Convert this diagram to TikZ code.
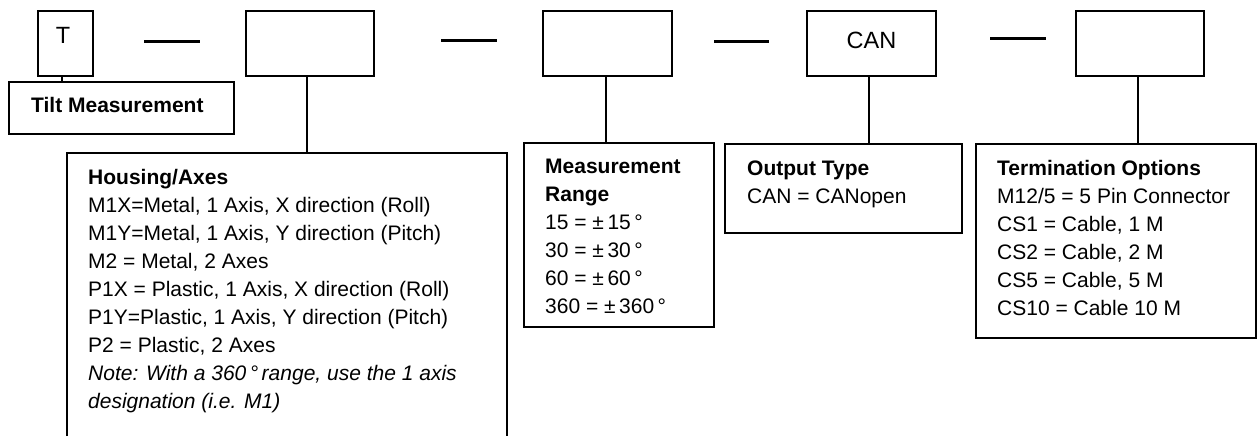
\documentclass[tikz,border=0pt]{standalone}
\usepackage{fontspec}
\setmainfont{Liberation Sans}
\begin{document}
\begin{tikzpicture}[x=1pt,y=-1pt,
  box/.style={draw, line width=1.4pt, inner sep=0pt, outer sep=0pt, anchor=north west},
  conn/.style={line width=1.3pt},
  dashline/.style={line width=3pt},
  code/.style={font=\fontsize{23.5}{28}\selectfont, inner sep=0pt},
  txt/.style={font=\fontsize{21}{28}\selectfont, align=left, anchor=north west, inner sep=0pt}]
\useasboundingbox (0,0) rectangle (1257,436);
% code boxes
\node[box, minimum width=55pt, minimum height=65pt] (t) at (38,11) {};
\node[box, minimum width=128pt, minimum height=65pt] (b2) at (246,11) {};
\node[box, minimum width=129pt, minimum height=65pt] (b3) at (543,11) {};
\node[box, minimum width=129pt, minimum height=65pt] (can) at (807,11) {};
\node[box, minimum width=128pt, minimum height=65pt] (b5) at (1076,11) {};
\node[code] (tl) at (63,35.5) {T};
\node[code] (canl) at (871.5,40) {CAN};
% dashes
\draw[dashline] (144,42) -- (200,42);
\draw[dashline] (441,41) -- (497,41);
\draw[dashline] (714,42) -- (769,42);
\draw[dashline] (990,39) -- (1046,39);
% description boxes
\node[box, minimum width=225pt, minimum height=52pt] (tilt) at (9,82) {};
\node[inner sep=0pt, outer sep=0pt, minimum width=440pt, minimum height=283pt, anchor=north west] (hous) at (67,153) {};
\draw[line width=1.4pt] (hous.south west) -- (hous.north west) -- (hous.north east) -- (hous.south east);
\node[box, minimum width=190pt, minimum height=184pt] (meas) at (524,143) {};
\node[box, minimum width=237pt, minimum height=89pt] (out) at (725,144) {};
\node[box, minimum width=280pt, minimum height=194pt] (term) at (976,144) {};
% connectors
\draw[conn] ([xshift=-3.5pt]t.south) -- ([xshift=-3.5pt]t.south |- tilt.north);
\draw[conn] ([xshift=-3pt]b2.south) -- ([xshift=-3pt]b2.south |- hous.north);
\draw[conn] ([xshift=-1.5pt]b3.south) -- ([xshift=-1.5pt]b3.south |- meas.north);
\draw[conn] ([xshift=-2.5pt]can.south) -- ([xshift=-2.5pt]can.south |- out.north);
\draw[conn] ([xshift=-2pt]b5.south) -- ([xshift=-2pt]b5.south |- term.north);
% texts
\node[txt, anchor=base west] (tiltt) at (31,112) {\bfseries Tilt Measurement};
\node[txt] (houst) at (88,163.5) {\rule{0pt}{21pt}\textbf{Housing/Axes}\\
M1X=Metal, 1 Axis, X direction (Roll)\\
M1Y=Metal, 1 Axis, Y direction (Pitch)\\
M2 = Metal, 2 Axes\\
P1X = Plastic, 1 Axis, X direction (Roll)\\
P1Y=Plastic, 1 Axis, Y direction (Pitch)\\
P2 = Plastic, 2 Axes\\
\textit{Note: With a 360\,°\,range, use the 1 axis}\\
\textit{designation (i.e. M1)}};
\node[txt] (meast) at (545,152.5) {\rule{0pt}{21pt}\textbf{Measurement}\\
\textbf{Range}\\
15 = ±\,15\,°\\
30 = ±\,30\,°\\
60 = ±\,60\,°\\
360 = ±\,360\,°};
\node[txt] (outt) at (747,154.5) {\rule{0pt}{21pt}\textbf{Output Type}\\
CAN = CANopen};
\node[txt] (termt) at (997,154.5) {\rule{0pt}{21pt}\textbf{Termination Options}\\
M12/5 = 5 Pin Connector\\
CS1 = Cable, 1 M\\
CS2 = Cable, 2 M\\
CS5 = Cable, 5 M\\
CS10 = Cable 10 M};
\end{tikzpicture}
\end{document}
